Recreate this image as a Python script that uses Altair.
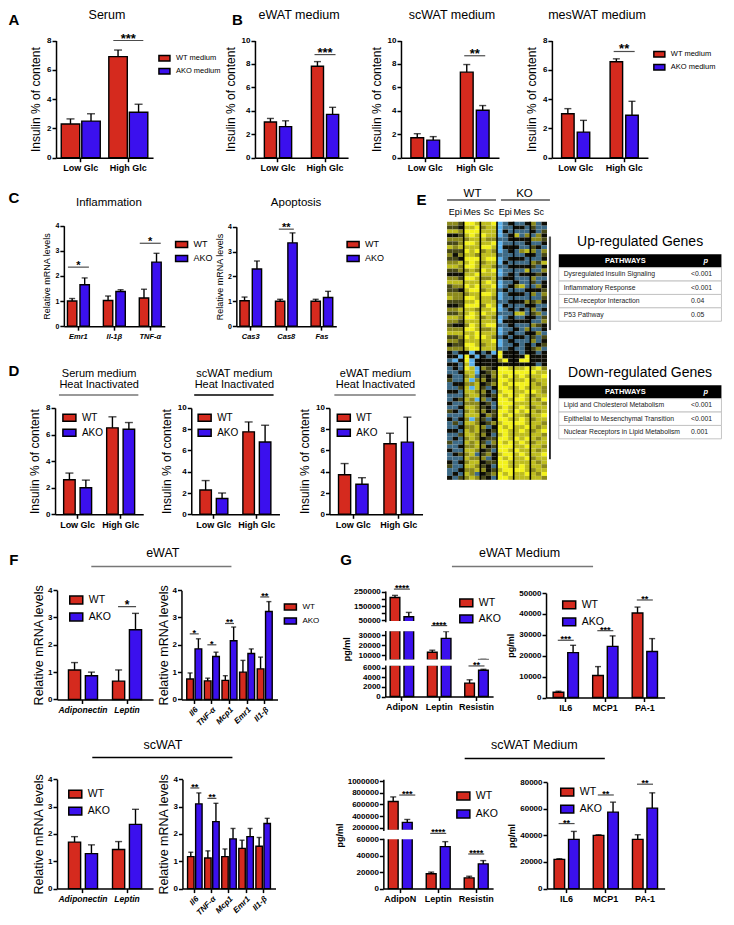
import altair as alt
import pandas as pd

FONT = "Liberation Sans"
RED = "#d52a1e"
BLUE = "#3b10ee"

# ---------------- data ----------------
GLC = ["Low Glc", "High Glc"]
MED_GROUPS = ["WT medium", "AKO medium"]
GROUPS = ["WT", "AKO"]

# A  Serum
A_WT = [2.3, 6.9]
A_AKO = [2.5, 3.1]
A_WT_ERR = [2.65, 7.35]
A_AKO_ERR = [3.0, 3.65]
# B  eWAT / scWAT / mesWAT medium
BE_WT = [3.05, 7.8]
BE_AKO = [2.65, 3.7]
BE_WT_ERR = [3.35, 8.2]
BE_AKO_ERR = [3.15, 4.3]
BS_WT = [1.7, 7.3]
BS_AKO = [1.5, 4.05]
BS_WT_ERR = [2.05, 7.95]
BS_AKO_ERR = [1.8, 4.45]
BM_WT = [3.0, 6.55]
BM_AKO = [1.75, 2.9]
BM_WT_ERR = [3.35, 6.75]
BM_AKO_ERR = [2.55, 3.85]
# C  Inflammation / Apoptosis
C_INF = ["Emr1", "Il-1β", "TNF-α"]
CI_WT = [1.0, 1.02, 1.12]
CI_AKO = [1.65, 1.38, 2.55]
CI_WT_ERR = [1.1, 1.2, 1.47]
CI_AKO_ERR = [1.92, 1.45, 2.9]
C_APO = ["Cas3", "Cas8", "Fas"]
CA_WT = [1.02, 1.0, 1.0]
CA_AKO = [2.3, 3.35, 1.15]
CA_WT_ERR = [1.17, 1.08, 1.08]
CA_AKO_ERR = [2.62, 3.75, 1.4]
# D  heat inactivated
DS_WT = [2.6, 6.5]
DS_AKO = [2.0, 6.4]
DS_WT_ERR = [3.1, 7.33]
DS_AKO_ERR = [2.57, 6.9]
DC_WT = [2.28, 7.75]
DC_AKO = [1.48, 6.8]
DC_WT_ERR = [3.17, 8.68]
DC_AKO_ERR = [2.0, 8.37]
DE_WT = [3.72, 6.63]
DE_AKO = [2.82, 6.78]
DE_WT_ERR = [4.77, 7.62]
DE_AKO_ERR = [3.44, 9.13]
# F  mRNA
F_AL = ["Adiponectin", "Leptin"]
F_CYT = ["Il6", "TNF-α", "Mcp1", "Emr1", "Il1-β"]
FE1_WT = [1.08, 0.67]
FE1_AKO = [0.87, 2.55]
FE1_WT_ERR = [1.35, 1.08]
FE1_AKO_ERR = [1.0, 3.15]
FE2_WT = [0.75, 0.68, 0.7, 1.0, 1.12]
FE2_AKO = [1.85, 1.57, 2.15, 1.68, 3.22]
FE2_WT_ERR = [0.97, 0.78, 0.87, 1.43, 1.55]
FE2_AKO_ERR = [2.22, 1.73, 2.65, 1.85, 3.58]
FS1_WT = [1.7, 1.43]
FS1_AKO = [1.28, 2.35]
FS1_WT_ERR = [1.9, 1.72]
FS1_AKO_ERR = [1.6, 2.9]
FS2_WT = [1.17, 1.12, 1.17, 1.47, 1.55]
FS2_AKO = [3.1, 2.45, 1.82, 1.9, 2.38]
FS2_WT_ERR = [1.33, 1.38, 1.45, 1.77, 1.87]
FS2_AKO_ERR = [3.5, 3.12, 2.2, 2.2, 2.57]
# G  secreted proteins (pg/ml)
G_ADI = ["AdipoN", "Leptin", "Resistin"]
G_CYT = ["IL6", "MCP1", "PA-1"]
GE1_WT = [210000, 13000, 2800]
GE1_AKO = [75000, 27000, 5500]
GE1_WT_ERR = [225000, 15000, 3500]
GE1_AKO_ERR = [105000, 34000, 5700]
GE2_WT = [2500, 10500, 40500]
GE2_AKO = [21500, 24500, 22000]
GE2_WT_ERR = [3000, 14800, 43300]
GE2_AKO_ERR = [25000, 29500, 28200]
GS1_WT = [650000, 18000, 13000]
GS1_AKO = [290000, 51000, 30000]
GS1_WT_ERR = [730000, 20000, 15000]
GS1_AKO_ERR = [340000, 57000, 34000]
GS2_WT = [22000, 40000, 37000]
GS2_AKO = [37000, 57500, 60500]
GS2_WT_ERR = [22500, 40500, 40500]
GS2_AKO_ERR = [43000, 65000, 72000]

# E  heatmap: one list of row-strips per sample group, 3 sub-columns each, read by eye
#    (B bright blue, b blue-grey, k black, d dark olive, o olive, y yellow, Y bright yellow)
HEAT_COLS = ["Epi", "Mes", "Sc", "Epi", "Mes", "Sc"]
HEAT_WT_EPI = [
    "ood", "ddk", "yyo", "kkd", "ooo", "ddo", "yoy", "ddd", "oko", "ddk", "ooy", "yyo",
    "ddo", "kkk", "ood", "yyy", "doo", "ddk", "ooo", "yoo", "ddd", "kkd", "ooy", "ddo",
    "yyo", "ood", "dkk", "ooo", "yyy", "ddo", "ood", "kdd", "ooo",
    "kbk", "kkB", "bBk", "kkb",
    "bkb", "bbk", "kbb", "dbb", "bkk", "bbd", "kkb", "bbb", "bkd", "kbb", "bbk", "dkb",
    "bbb", "kbk", "bdb", "bbk", "kkb", "bbd", "bkb", "dbb", "bbk", "kbb", "bkd", "bbb",
    "kbk", "dbb", "bbk", "bkb", "kbd"]
HEAT_WT_MES = [
    "YYy", "yyY", "YYY", "yYy", "oyy", "YYy", "yyy", "YyY", "yyo", "YYY", "yYy", "YYy",
    "oyo", "yyY", "YYy", "yyy", "YyY", "yYY", "oyy", "YYy", "yyY", "YYY", "yyo", "yYy",
    "YYy", "yyy", "oYy", "YYy", "yyY", "YyY", "yyy", "YYy", "yYY",
    "kBk", "YkB", "YBk", "yBk",
    "YyB", "yyB", "oyb", "yBo", "ooy", "yBy", "yyo", "oyy", "yoB", "ooo", "yyo", "oyo",
    "yyy", "oBo", "yyo", "ooy", "yoy", "yyo", "oyo", "yoy", "ooy", "yyo", "oyb", "yoo",
    "oyy", "yyo", "ooy", "yob", "oyo"]
HEAT_WT_SC = [
    "yyY", "oyy", "yyy", "Yyy", "yoo", "yyY", "YYy", "oyo", "yyy", "yYY", "oyy", "yyo",
    "YyY", "yyy", "ooy", "yYy", "yyY", "oyy", "YYy", "yyo", "yyy", "oYy", "yyY", "Yyy",
    "oyo", "yyy", "yYY", "ooy", "yyy", "Yyo", "yyY", "oyy", "yyy",
    "bkB", "kbk", "kkk", "kkk",
    "odk", "kdo", "dko", "okd", "kdo", "dbk", "okb", "dkd", "obk", "kdb", "dkb", "okd",
    "kod", "dbk", "kdo", "obk", "dkd", "okb", "kdd", "dbo", "okd", "kdb", "dok", "obk",
    "kdd", "dkb", "okd", "kdo", "dkb"]
HEAT_KO_EPI = [
    "Bbk", "Bbb", "Bkb", "Bbk", "bbk", "Bbb", "Bkk", "Bbk", "bbb", "Bbk", "Bkb", "bbk",
    "Bbb", "Bbk", "bkk", "Bbb", "Bbk", "bkb", "Bbk", "Bbb", "bbk", "Bkb", "Bbk", "bbb",
    "Bbk", "Bkk", "bbk", "Bbb", "Bbk", "bkb", "Bbk", "Bbb", "bbk",
    "Ykk", "Ykk", "oYk", "kkk",
    "YYy", "YYY", "YyY", "YYy", "YyY", "YYy", "yYY", "YyY", "YYy", "YYY", "yYy", "YYy",
    "YyY", "YYy", "yYY", "YyY", "YYy", "yYy", "YYy", "YyY", "YYY", "YYy", "yYY", "YyY",
    "YYy", "YYy", "yYY", "YyY", "YYy"]
HEAT_KO_MES = [
    "bbk", "kkb", "bbb", "ybo", "kkk", "bbk", "kbb", "boy", "bbk", "kkb", "bbb", "kkk",
    "bby", "bkk", "bbb", "kbb", "oyb", "bbk", "kkb", "bbb", "kko", "bbk", "bkb", "yyb",
    "bbk", "kkk", "bbb", "kbo", "bbk", "kkb", "bbb", "kbk", "bbk",
    "kbk", "kkY", "kYY", "kkk",
    "yyY", "YYY", "yYy", "yyY", "YYY", "yYy", "yyY", "yYy", "YYy", "yyy", "yYy", "YyY",
    "yyo", "yYy", "YYy", "yyY", "yYy", "yyy", "YyY", "yYy", "yyY", "Yyy", "yYy", "yyY",
    "yyy", "yYy", "YYy", "yyY", "yyy"]
HEAT_KO_SC = [
    "obk", "dbb", "kbd", "bok", "ood", "bbk", "dkb", "obo", "kbd", "bbk", "ody", "dbk",
    "bbo", "kdk", "obb", "dbk", "bok", "kkd", "obo", "bbd", "dok", "kbb", "obk", "dob",
    "kbd", "bbo", "odk", "bbk", "kob", "dbd", "obk", "bkd", "dob",
    "kbk", "kkk", "kkk", "kbk",
    "yYo", "Yyy", "yyY", "oyy", "yoy", "yyo", "Yyo", "oyy", "yoY", "yyo", "oyy", "yoy",
    "yyY", "oyy", "yyo", "yoy", "oyY", "yyo", "yoy", "oyy", "yyo", "yoy", "yyY", "oyy",
    "yoy", "yyo", "oyy", "yoY", "yyo"]
HEAT_LEVEL = {"B": -1.0, "b": -0.5, "k": 0.0, "d": 0.25, "o": 0.5, "y": 0.75, "Y": 1.0}
SEPARATORS = [3, 6, 9, 12, 15]
COL_LABEL_POS = [1, 4, 7, 10, 13, 16]

UP_PATHWAYS = ["Dysregulated Insulin Signaling", "Inflammatory Response",
               "ECM-receptor Interaction", "P53 Pathway"]
UP_P = ["<0.001", "<0.001", "0.04", "0.05"]
DOWN_PATHWAYS = ["Lipid and Cholesterol Metabolism",
                 "Epithelial to Mesenchymal Transition",
                 "Nuclear Receptors in Lipid Metabolism"]
DOWN_P = ["<0.001", "<0.001", "0.001"]

# ---------------- layout helpers (reference pixel frame -> chart frame) ----------------
SX, SY = 0.98, 0.985
W, HT = 718, 905


def fx(v):
    return round(v * SX, 2)


def fy(v):
    return round(v * SY, 2)


def one():
    return alt.Chart(pd.DataFrame({"t": [0]}))


def txt(s, x, y, size=12, weight="normal", style="normal", angle=0,
        align="center", baseline="middle", color="black"):
    return alt.Chart(pd.DataFrame({"t": [s]})).mark_text(
        font=FONT, fontSize=size, fontWeight=weight, fontStyle=style, angle=angle,
        align=align, baseline=baseline, color=color
    ).encode(x=alt.value(fx(x)), y=alt.value(fy(y)), text="t:N")


def hline(x1, x2, y, color="#666666", width=1.5):
    return one().mark_rule(color=color, strokeWidth=width).encode(
        x=alt.value(fx(x1)), x2=alt.value(fx(x2)), y=alt.value(fy(y)))


def vline(x, y1, y2, color="black", width=1.5):
    return one().mark_rule(color=color, strokeWidth=width).encode(
        x=alt.value(fx(x)), y=alt.value(fy(y1)), y2=alt.value(fy(y2)))


def cover(x1, x2, y1, y2):
    # white gap of a broken axis
    return one().mark_rect(color="white").encode(
        x=alt.value(fx(x1)), x2=alt.value(fx(x2)), y=alt.value(fy(y1)), y2=alt.value(fy(y2)))


def leg(x, cy, spacing, w=12, ratio=0.5, size=9):
    return alt.Legend(
        orient="none", legendX=fx(x), legendY=fy(cy) - w / 2, title=None,
        symbolType=f"M-1,-{ratio}H1V{ratio}H-1Z", symbolSize=w * w,
        symbolStrokeColor="black", symbolStrokeWidth=1.5, symbolOpacity=1,
        labelFont=FONT, labelFontSize=size, labelColor="black", labelFontWeight="normal",
        labelOffset=5, rowPadding=max(0, spacing - w), padding=0)


panels = []
sig_layers = []
extras = []


def grouped(cats, wt, ako, wt_err, ako_err, rect, ydom, yticks, groups=GROUPS,
            ytitle=None, ytsize=12, ytweight="normal", ytpad=4, ylsize=8,
            pi=0.3, po=0.15, opi=0.2, cap=6, xaxis=True, xlsize=9,
            xitalic=False, xangle=0, legend=None, sig=(), sig_w=20, sig_font=10,
            seg=False):
    x0, y0, x1, y1 = rect
    X0, Y0, X1, Y1 = fx(x0), fy(y0), fx(x1), fy(y1)
    rows = []
    for c, a, b, ea, eb in zip(cats, wt, ako, wt_err, ako_err):
        rows.append({"cat": c, "group": groups[0], "value": a, "err": ea})
        rows.append({"cat": c, "group": groups[1], "value": b, "err": eb})
    df = pd.DataFrame(rows)
    lo, hi = ydom
    if seg:
        bar_df = df[df["value"] > lo]
        err_df = df[(df["err"] > lo) & (df["value"] < hi)]
        cap_df = df[(df["err"] >= lo) & (df["err"] <= hi)]
    else:
        bar_df = err_df = cap_df = df
    if xaxis:
        xax = alt.Axis(orient="bottom", offset=round(Y1 - HT, 2), title=None,
                       labelAngle=xangle, labelFontSize=xlsize,
                       labelFontStyle="italic" if xitalic else "normal", labelPadding=2)
    else:
        xax = None

    def xsc():
        return alt.Scale(domain=list(cats), range=[X0, X1], paddingInner=pi, paddingOuter=po)

    def osc():
        return alt.Scale(domain=list(groups), paddingInner=opi)

    x = alt.X("cat:N", scale=xsc(), axis=xax)
    xo = alt.XOffset("group:N", scale=osc())
    ys = alt.Scale(domain=list(ydom), range=[Y1, Y0], nice=False, zero=False, clamp=seg)
    yax = alt.Axis(orient="left", offset=-X0, values=yticks, format="d", title=ytitle,
                   titleFontSize=ytsize, titleFontWeight=ytweight, titlePadding=ytpad,
                   labelFontSize=ylsize)

    def Y(f):
        return alt.Y(f, scale=ys, axis=yax)

    color = alt.Color("group:N", scale=alt.Scale(domain=list(groups), range=[RED, BLUE]),
                      legend=legend)
    errs = alt.Chart(err_df).mark_rule(color="black", strokeWidth=1.4).encode(
        x=x, xOffset=xo, y=Y("value:Q"), y2="err:Q")
    caps = alt.Chart(cap_df).mark_tick(color="black", thickness=1.4, size=cap,
                                       orient="horizontal").encode(x=x, xOffset=xo, y=Y("err:Q"))
    bars = alt.Chart(bar_df).mark_bar(stroke="black", strokeWidth=1.4).encode(
        x=x, xOffset=xo, y=Y("value:Q"), y2=alt.datum(0), color=color)
    panels.append(alt.layer(errs, caps, bars))

    # significance marks: own (unclamped) copy of the same scales, no axes
    if sig:
        xs2 = alt.X("cat:N", scale=xsc(), axis=None)
        xo2 = alt.XOffset("group:N", scale=osc())
        ys2 = alt.Y("y:Q", scale=alt.Scale(domain=list(ydom), range=[Y1, Y0], nice=False,
                                           zero=False), axis=None)
        sdf = pd.DataFrame([s if len(s) == 4 else tuple(s) + (groups[0],) for s in sig],
                           columns=["cat", "y", "lab", "group"])
        sdf["single"] = [len(s) == 4 for s in sig]
        lay = []
        cen = sdf[~sdf["single"]]
        off = sdf[sdf["single"]]
        if len(cen):
            b = alt.Chart(cen)
            lay.append(b.mark_tick(color="black", thickness=1.2, size=sig_w,
                                   orient="horizontal").encode(x=xs2, y=ys2))
            lay.append(b.mark_text(font=FONT, fontSize=sig_font, fontWeight="bold",
                                   baseline="alphabetic", dy=2).encode(
                x=xs2, y=ys2, text="lab:N"))
        if len(off):
            b = alt.Chart(off)
            lay.append(b.mark_tick(color="black", thickness=1.2, size=sig_w,
                                   orient="horizontal").encode(x=xs2, xOffset=xo2, y=ys2))
            lay.append(b.mark_text(font=FONT, fontSize=sig_font, fontWeight="bold",
                                   baseline="alphabetic", dy=2).encode(
                x=xs2, xOffset=xo2, y=ys2, text="lab:N"))
        sig_layers.append(alt.layer(*lay))


def letter(s, x, y):
    return txt(s, x, y, size=15, weight="bold")


# ---------------- A, B ----------------
INS = "Insulin % of content"
grouped(GLC, A_WT, A_AKO, A_WT_ERR, A_AKO_ERR, (49, 33, 148, 152), [0, 8],
        [0, 2, 4, 6, 8], groups=MED_GROUPS, ytitle=INS, pi=0.18, po=0.11,
        opi=0.1, cap=8, legend=leg(153, 50, 11, w=11, size=7.5),
        sig=[("High Glc", 8.0, "***")], sig_w=30, sig_font=13)
grouped(GLC, BE_WT, BE_AKO, BE_WT_ERR, BE_AKO_ERR, (252, 33, 347, 152),
        [0, 10], [0, 2, 4, 6, 8, 10], groups=MED_GROUPS, ytitle=INS,
        pi=0.42, po=0.2, opi=0.2, cap=7, sig=[("High Glc", 8.8, "***")],
        sig_w=21, sig_font=13)
grouped(GLC, BS_WT, BS_AKO, BS_WT_ERR, BS_AKO_ERR, (401, 33, 501, 152),
        [0, 10], [0, 2, 4, 6, 8, 10], groups=MED_GROUPS, ytitle=INS,
        pi=0.42, po=0.2, opi=0.2, cap=7, sig=[("High Glc", 8.7, "**")],
        sig_w=21, sig_font=13)
grouped(GLC, BM_WT, BM_AKO, BM_WT_ERR, BM_AKO_ERR, (555, 33, 653, 152),
        [0, 8], [0, 2, 4, 6, 8], groups=MED_GROUPS, ytitle=INS, pi=0.42,
        po=0.2, opi=0.2, cap=7, legend=leg(658, 46, 11, w=11, size=7.5),
        sig=[("High Glc", 7.25, "**")], sig_w=21, sig_font=13)
extras += [txt("Serum", 101, 7, size=12.5), txt("eWAT medium", 297, 7, size=12.5),
           txt("scWAT medium", 453, 7, size=12.5), txt("mesWAT medium", 601, 7, size=12.5),
           letter("A", 6, 12), letter("B", 234, 12)]

# ---------------- C ----------------
RML = "Relative mRNA levels"
grouped(C_INF, CI_WT, CI_AKO, CI_WT_ERR, CI_AKO_ERR, (57, 221, 160, 323),
        [0, 4], [0, 1, 2, 3, 4], ytitle=RML, ytsize=9, ytpad=3, ylsize=7,
        pi=0.39, po=0.1, opi=0.25, cap=6, xlsize=7.5, xitalic=True,
        legend=leg(170, 239, 13, w=12, size=9),
        sig=[("Emr1", 2.35, "*"), ("TNF-α", 3.3, "*")], sig_w=21, sig_font=11)
grouped(C_APO, CA_WT, CA_AKO, CA_WT_ERR, CA_AKO_ERR, (233, 222, 335, 323),
        [0, 4], [0, 1, 2, 3, 4], ytitle=RML, ytsize=9, ytpad=3, ylsize=7,
        pi=0.39, po=0.1, opi=0.25, cap=6, xlsize=7.5, xitalic=True,
        legend=leg(345, 239, 13, w=12, size=9),
        sig=[("Cas8", 3.9, "**")], sig_w=15, sig_font=11)
extras += [txt("Inflammation", 103, 198, size=11.5), txt("Apoptosis", 294, 198, size=11.5),
           letter("C", 6, 193)]

# ---------------- D ----------------
DKW = dict(ytitle=INS, pi=0.35, po=0.2, opi=0.3, cap=8)
grouped(GLC, DS_WT, DS_AKO, DS_WT_ERR, DS_AKO_ERR, (48, 406, 138, 514),
        [0, 8], [0, 2, 4, 6, 8],
        legend=leg(55, 415, 13, w=13, ratio=0.55, size=10), **DKW)
grouped(GLC, DC_WT, DC_AKO, DC_WT_ERR, DC_AKO_ERR, (187, 406, 277, 514),
        [0, 10], [0, 2, 4, 6, 8, 10],
        legend=leg(193, 415, 13, w=13, ratio=0.55, size=10), **DKW)
grouped(GLC, DE_WT, DE_AKO, DE_WT_ERR, DE_AKO_ERR, (328, 406, 423, 514),
        [0, 10], [0, 2, 4, 6, 8, 10],
        legend=leg(335, 415, 13, w=13, ratio=0.55, size=10), **DKW)
for name, cx, u1, u2, col in [("Serum medium", 93, 52, 133, "#777777"),
                              ("scWAT medium", 231, 190, 271, "black"),
                              ("eWAT medium", 375, 333, 416, "#777777")]:
    extras += [txt(name, cx, 372, size=11), txt("Heat Inactivated", cx, 383, size=11),
               hline(u1, u2, 393, color=col)]
extras.append(letter("D", 6, 369))

# ---------------- E ----------------
hrows = []
heat_groups = [HEAT_WT_EPI, HEAT_WT_MES, HEAT_WT_SC, HEAT_KO_EPI, HEAT_KO_MES, HEAT_KO_SC]
for gi, strips in enumerate(heat_groups):
    for r, s in enumerate(strips):
        for k, ch in enumerate(s):
            hrows.append({"r": r, "c": gi * 3 + k, "v": HEAT_LEVEL[ch]})
hdf = pd.DataFrame(hrows)
hx = alt.Scale(domain=list(range(18)), range=[fx(448), fx(550)], paddingInner=0,
               paddingOuter=0)
cells = alt.Chart(hdf).mark_rect(strokeWidth=0).encode(
    x=alt.X("c:O", scale=hx, axis=None),
    y=alt.Y("r:O", scale=alt.Scale(range=[fy(217), fy(479)], paddingInner=0,
                                   paddingOuter=0), axis=None),
    color=alt.Color("v:Q", legend=None, scale=alt.Scale(
        domain=[-1, -0.5, 0, 0.5, 1],
        range=["#5cb2ee", "#3d6a86", "#0e0e06", "#8c8a1c", "#f3f21c"])))
seps = alt.Chart(pd.DataFrame({"c": SEPARATORS})).mark_rule(
    color="black", strokeWidth=1.6).encode(
    x=alt.X("c:O", scale=hx, axis=None, bandPosition=0),
    y=alt.value(fy(217)), y2=alt.value(fy(479)))
clabs = alt.Chart(pd.DataFrame({"c": COL_LABEL_POS, "lab": HEAT_COLS})).mark_text(
    font=FONT, fontSize=9, baseline="middle").encode(
    x=alt.X("c:O", scale=hx, axis=None), y=alt.value(fy(207)), text="lab:N")
panels.append(alt.layer(cells, seps, clabs))
extras += [txt("WT", 474, 189, size=11.5), txt("KO", 527, 189, size=11.5),
           hline(448, 498, 195, color="#555555"), hline(503, 553, 195, color="#555555"),
           vline(553, 232, 327, color="#555555", width=2.2), vline(553, 367, 458, width=1.6),
           letter("E", 422, 195)]

TX0, TX1 = 562, 728


def table(names, pvals, top, title):
    n = len(names)
    rh = 13.6
    bot = top + rh * (n + 1)
    ysc = alt.Scale(domain=list(range(n + 1)), range=[fy(top), fy(bot)],
                    paddingInner=0, paddingOuter=0)
    y = alt.Y("r:O", scale=ysc, axis=None)
    df = pd.DataFrame({"r": list(range(1, n + 1)), "name": names, "p": pvals})
    hdr = alt.Chart(pd.DataFrame({"r": [0]})).mark_rect(color="black").encode(
        x=alt.value(fx(TX0)), x2=alt.value(fx(TX1)), y=y)
    body = alt.Chart(df).mark_rect(fill="white", stroke="#c4c4c4", strokeWidth=1).encode(
        x=alt.value(fx(TX0)), x2=alt.value(fx(TX1)), y=y)
    nm = alt.Chart(df).mark_text(font=FONT, fontSize=6.8, align="left",
                                 color="#222222").encode(
        x=alt.value(fx(TX0 + 5)), y=y, text="name:N")
    pv = alt.Chart(df).mark_text(font=FONT, fontSize=6.8, align="left",
                                 color="#222222").encode(
        x=alt.value(fx(TX0 + 135)), y=y, text="p:N")
    panels.append(alt.layer(hdr, body, nm, pv))
    extras.extend([
        txt("PATHWAYS", TX0 + 68, top + rh / 2, size=7.5, weight="bold", color="white"),
        txt("p", TX0 + 150, top + rh / 2, size=7.5, weight="bold", style="italic",
            color="white"),
        txt(title, (TX0 + TX1) / 2, top - 12, size=14),
    ])


table(UP_PATHWAYS, UP_P, 250, "Up-regulated Genes")
table(DOWN_PATHWAYS, DOWN_P, 383, "Down-regulated Genes")

# ---------------- F ----------------
FKW1 = dict(ytitle=RML, ytsize=12.5, ytpad=2, pi=0.34, po=0.26, opi=0.28, cap=7,
            xlsize=8.5, xitalic=True)
FKW2 = dict(ytitle=RML, ytsize=12.5, ytpad=2, pi=0.15, po=0.3, opi=0.2, cap=5,
            xlsize=8, xitalic=True, xangle=315, sig_w=9, sig_font=9)
grouped(F_AL, FE1_WT, FE1_AKO, FE1_WT_ERR, FE1_AKO_ERR, (50, 591, 148, 702),
        [0, 4], [0, 1, 2, 3, 4],
        legend=leg(62, 600, 15, w=13, ratio=0.6, size=10.5),
        sig=[("Leptin", 3.4, "*")], sig_w=18, sig_font=12, **FKW1)
grouped(F_CYT, FE2_WT, FE2_AKO, FE2_WT_ERR, FE2_AKO_ERR, (177, 591, 275, 702),
        [0, 4], [0, 1, 2, 3, 4], legend=leg(281, 607, 13, w=12, size=8),
        sig=[("Il6", 2.4, "*"), ("TNF-α", 2.0, "*"), ("Mcp1", 2.78, "**"),
             ("Il1-β", 3.75, "**")], **FKW2)
grouped(F_AL, FS1_WT, FS1_AKO, FS1_WT_ERR, FS1_AKO_ERR, (50, 783, 148, 894),
        [0, 4], [0, 1, 2, 3, 4],
        legend=leg(61, 797, 15, w=13, ratio=0.6, size=10.5), **FKW1)
grouped(F_CYT, FS2_WT, FS2_AKO, FS2_WT_ERR, FS2_AKO_ERR, (178, 783, 273, 894),
        [0, 4], [0, 1, 2, 3, 4],
        sig=[("Il6", 3.68, "**"), ("TNF-α", 3.3, "**")], **FKW2)
extras += [txt("eWAT", 158, 553, size=12.5), hline(85, 228, 567, color="#777777"),
           txt("scWAT", 158, 748, size=12.5), hline(86, 229, 761, color="black"),
           letter("F", 6, 560)]

# ---------------- G ----------------
GKW = dict(pi=0.37, po=0.13, opi=0.3, cap=6, xlsize=9, seg=True, sig_w=16, sig_font=9)
grouped(G_ADI, GE1_WT, GE1_AKO, GE1_WT_ERR, GE1_AKO_ERR, (385, 592, 495, 623),
        [40000, 255000], [50000, 100000, 150000, 200000, 250000],
        xaxis=False, legend=leg(460, 603, 14, w=13, ratio=0.6, size=10.5),
        sig=[("AdipoN", 269000, "****")], **GKW)
grouped(G_ADI, GE1_WT, GE1_AKO, GE1_WT_ERR, GE1_AKO_ERR, (385, 632, 495, 662),
        [5000, 35000], [10000, 20000, 30000], xaxis=False,
        sig=[("Leptin", 40000, "****")], **GKW)
grouped(G_ADI, GE1_WT, GE1_AKO, GE1_WT_ERR, GE1_AKO_ERR, (385, 667, 495, 699),
        [0, 6600], [0, 2000, 4000, 6000],
        sig=[("Resistin", 6400, "**")], **GKW)
grouped(G_CYT, GE2_WT, GE2_AKO, GE2_WT_ERR, GE2_AKO_ERR, (549, 594, 670, 700),
        [0, 50000], [0, 10000, 20000, 30000, 40000, 50000], ytitle="pg/ml",
        ytsize=9, ytweight="bold", ytpad=3, pi=0.36, po=0.18, opi=0.27, cap=6,
        legend=leg(565, 605, 15, w=13, ratio=0.6, size=10.5),
        sig=[("IL6", 27400, "***"), ("MCP1", 32000, "***"),
             ("PA-1", 46700, "**")], sig_w=16, sig_font=9)
grouped(G_ADI, GS1_WT, GS1_AKO, GS1_WT_ERR, GS1_AKO_ERR, (383, 783, 495, 835),
        [150000, 1035000], [200000, 400000, 600000, 800000, 1000000],
        xaxis=False, legend=leg(457, 799, 16, w=13, ratio=0.6, size=10.5),
        sig=[("AdipoN", 762000, "***", "AKO")], **GKW)
grouped(G_ADI, GS1_WT, GS1_AKO, GS1_WT_ERR, GS1_AKO_ERR, (383, 843, 495, 894),
        [0, 61000], [0, 20000, 40000, 60000],
        sig=[("Leptin", 67000, "****"), ("Resistin", 42000, "****")], **GKW)
grouped(G_CYT, GS2_WT, GS2_AKO, GS2_WT_ERR, GS2_AKO_ERR, (550, 786, 670, 894),
        [0, 80000], [0, 20000, 40000, 60000, 80000], ytitle="pg/ml",
        ytsize=9, ytweight="bold", ytpad=3, pi=0.36, po=0.18, opi=0.27, cap=6,
        legend=leg(563, 795, 15, w=13, ratio=0.6, size=10.5),
        sig=[("IL6", 48900, "**"), ("MCP1", 70400, "**"),
             ("PA-1", 78500, "**")], sig_w=16, sig_font=9)
covers = [cover(386.6, 497, 622.3, 632.8), cover(386.6, 497, 661.3, 667.8),
          cover(384.6, 497, 834.3, 843.8)]
extras += [txt("eWAT Medium", 522, 553, size=12.5), hline(453, 597, 567, color="#777777"),
           txt("scWAT Medium", 537, 748, size=12.5), hline(466, 609, 762, color="black"),
           txt("pg/ml", 346, 651, size=9, weight="bold", angle=270),
           txt("pg/ml", 339, 840, size=9, weight="bold", angle=270),
           letter("G", 345, 560)]

chart = alt.layer(*panels, *covers, *sig_layers, *extras).resolve_scale(
    x="independent", y="independent", color="independent", xOffset="independent"
).properties(width=W, height=HT, padding=0).configure_view(stroke=None).configure_axis(
    domainColor="black", domainWidth=1.5, tickColor="black", tickWidth=1.5, tickSize=4,
    labelFont=FONT, labelFontWeight="bold", labelColor="black", titleFont=FONT,
    titleColor="black", grid=False, labelPadding=1
).configure_text(font=FONT)

chart.save("out.html", embed_options={"renderer": "svg", "actions": False})
